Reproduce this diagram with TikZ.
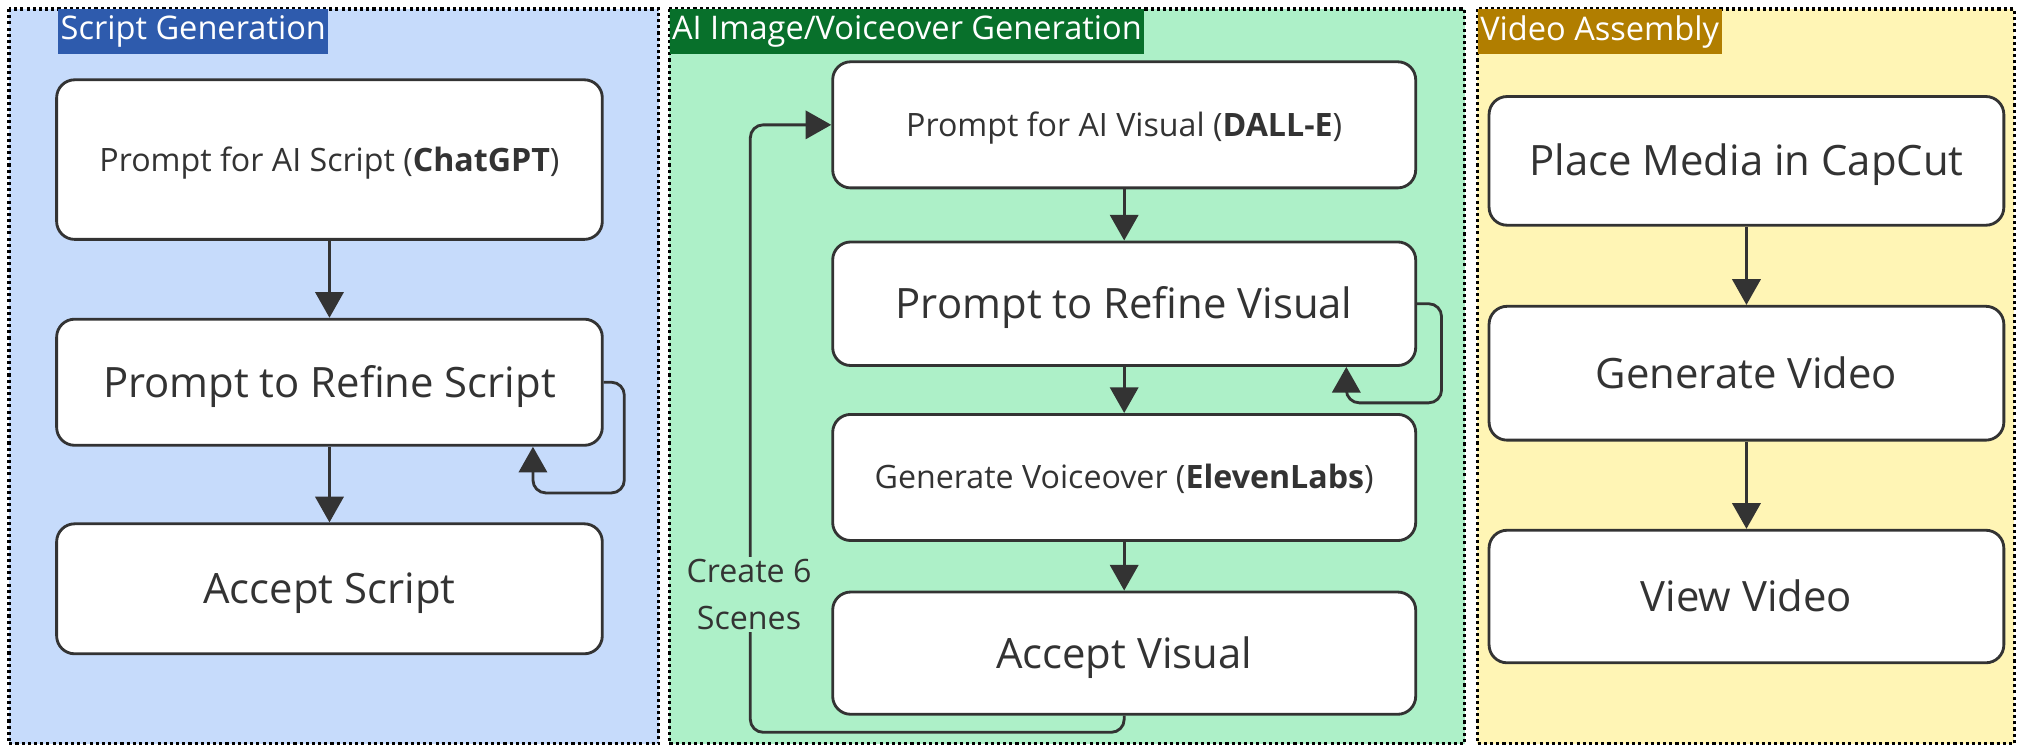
\documentclass[tikz,border=0pt]{standalone}
\usepackage{fontspec}
\setmainfont{Open Sans}
\usetikzlibrary{arrows.meta,calc}
\definecolor{ink}{HTML}{333333}
\definecolor{bluebg}{HTML}{C6DBFB}
\definecolor{greenbg}{HTML}{ADF0C8}
\definecolor{yellowbg}{HTML}{FFF5B5}
\definecolor{bluetitle}{HTML}{2E5BAD}
\definecolor{greentitle}{HTML}{08702B}
\definecolor{goldtitle}{HTML}{B17E00}
\begin{document}
\begin{tikzpicture}[x=1pt,y=-1pt,
  box/.style={draw=ink, line width=2.2pt, fill=white, rounded corners=14pt, text=ink, inner sep=0pt, align=center, font=\fontsize{32.5}{38}\selectfont, text height=23.2pt, text depth=0pt},
  boxA/.style={box, minimum width=424pt},
  boxB/.style={box, minimum width=453pt},
  boxC/.style={box, minimum width=400pt},
  small/.style={font=\fontsize{25}{30}\selectfont, text height=17.9pt, text depth=0pt},
  flow/.style={draw=ink, line width=2.2pt, -{Triangle[length=20pt,width=22pt]}},
  panel/.style={draw=black, line width=2.4pt, dash pattern=on 2.4pt off 2.4pt},
  title/.style={text=white, inner xsep=2pt, inner ysep=0pt, anchor=north west, minimum height=35pt, font=\fontsize{25.3}{30}\selectfont}]
\useasboundingbox (0,0) rectangle (1568,581);
% panels
\fill[bluebg] (7,7) rectangle (512,578);
\draw[panel] (7,7) rectangle (512,578);
\fill[greenbg] (520,7) rectangle (1138,578);
\draw[panel] (520,7) rectangle (1138,578);
\fill[yellowbg] (1148,7) rectangle (1565,578);
\draw[panel] (1148,7) rectangle (1565,578);
% titles
\node[title, fill=bluetitle] (t1) at (45,7) {Script Generation};
\node[title, fill=greentitle] (t2) at (520,7) {AI Image/Voiceover Generation};
\node[title, fill=goldtitle] (t3) at (1148,7) {Video Assembly};
% column 1
\node[boxA, small, minimum height=124pt] (A1) at (256,124) {Prompt for AI Script (\textbf{ChatGPT})};
\node[boxA, minimum height=98pt] (A2) at (256,297) {Prompt to Refine Script};
\node[boxA, minimum height=101pt] (A3) at (256,457.5) {Accept Script};
\draw[flow] (A1.south) -- (A2.north);
\draw[flow] (A2.south) -- (A3.north);
\draw[flow, rounded corners=10pt] (A2.east) -- ++(16,0) -- ++(0,86) -- ++(-71,0) -- ([xshift=-55pt]A2.south east);
% column 2
\node[boxB, small, minimum height=98pt] (B1) at (873.5,97) {Prompt for AI Visual (\textbf{DALL-E})};
\node[boxB, minimum height=96pt] (B2) at (873.5,236) {Prompt to Refine Visual};
\node[boxB, small, minimum height=98pt] (B3) at (873.5,371) {Generate Voiceover (\textbf{ElevenLabs})};
\node[boxB, minimum height=95pt] (B4) at (873.5,507.5) {Accept Visual};
\draw[flow] (B1.south) -- (B2.north);
\draw[flow] (B2.south) -- (B3.north);
\draw[flow] (B3.south) -- (B4.north);
\draw[flow, rounded corners=10pt] (B2.east) -- ++(19,0) -- ++(0,77) -- ++(-74,0) -- ([xshift=-55pt]B2.south east);
\coordinate (lp) at (583,569);
\draw[flow, rounded corners=10pt] (B4.south) -- (B4.south |- lp) -- (lp) |- (B1.west);
\node[fill=greenbg, text=ink, align=center, inner xsep=0pt, inner ysep=2pt, font=\fontsize{25}{36}\selectfont] (lbl) at (582,462) {Create 6\\Scenes};
% column 3
\node[boxC, minimum height=100pt] (C1) at (1357,125) {Place Media in CapCut};
\node[boxC, minimum height=104pt] (C2) at (1357,290) {Generate Video};
\node[boxC, minimum height=103pt] (C3) at (1357,463.5) {View Video};
\draw[flow] (C1.south) -- (C2.north);
\draw[flow] (C2.south) -- (C3.north);
\end{tikzpicture}
\end{document}
